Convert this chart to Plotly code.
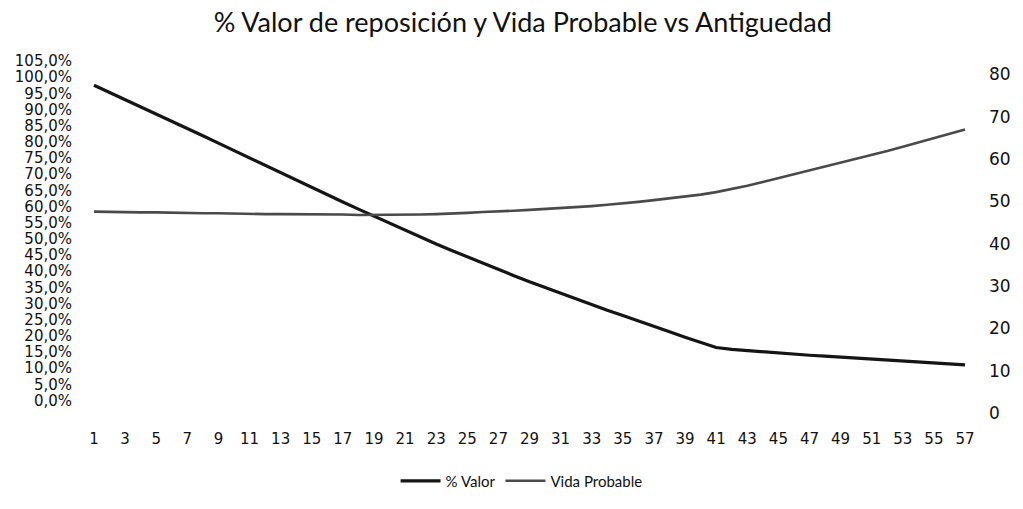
import plotly.graph_objects as go

# Antigüedad (años)
antiguedad = list(range(1, 58))

# % Valor de reposición (fracción)
pct_valor = [0.975, 0.953, 0.931, 0.909, 0.887, 0.865, 0.842, 0.819, 0.796, 0.773,
             0.750, 0.727, 0.704, 0.681, 0.658, 0.636, 0.614, 0.592, 0.570, 0.548,
             0.526, 0.505, 0.484, 0.464, 0.444, 0.424, 0.405, 0.386, 0.367, 0.349,
             0.331, 0.313, 0.296, 0.279, 0.263, 0.247, 0.231, 0.213, 0.196, 0.180,
             0.164, 0.158, 0.154, 0.150, 0.146, 0.143, 0.140, 0.137, 0.134, 0.131,
             0.128, 0.125, 0.122, 0.119, 0.116, 0.113, 0.110]

# Vida probable (años)
vida_probable = [47.6, 47.5, 47.5, 47.4, 47.4, 47.3, 47.3, 47.2, 47.2, 47.1,
                 47.1, 47.0, 47.0, 47.0, 46.9, 46.9, 46.9, 46.8, 46.8, 46.8,
                 46.8, 46.9, 47.0, 47.1, 47.3, 47.5, 47.6, 47.8, 48.0, 48.2,
                 48.4, 48.6, 48.9, 49.2, 49.5, 49.9, 50.3, 50.7, 51.1, 51.6,
                 52.2, 52.9, 53.7, 54.6, 55.5, 56.4, 57.3, 58.2, 59.2, 60.1,
                 61.0, 61.9, 62.9, 63.9, 65.0, 66.0, 67.0]

left_ticks = [i * 0.05 for i in range(22)]
right_ticks = list(range(0, 90, 10))
x_ticks = list(range(1, 58, 2))

title_font = "Lato, 'Open Sans', sans-serif"
tick_font = "'DejaVu Sans', sans-serif"

fig = go.Figure()

fig.add_trace(go.Scatter(
    x=antiguedad,
    y=pct_valor,
    mode="lines",
    name="% Valor",
    line=dict(color="#151515", width=3.2),
    yaxis="y"
))

fig.add_trace(go.Scatter(
    x=antiguedad,
    y=vida_probable,
    mode="lines",
    name="Vida Probable",
    line=dict(color="#4a4a4a", width=2.6),
    yaxis="y2"
))

fig.update_layout(
    width=1023,
    height=509,
    margin=dict(l=85, r=45, t=61, b=81),
    paper_bgcolor="white",
    plot_bgcolor="white",
    separators=",.",
    font=dict(family=title_font, size=16, color="#111111"),
    title=dict(
        text="% Valor de reposición y Vida Probable vs Antiguedad",
        x=0.511,
        xanchor="center",
        y=0.955,
        yanchor="middle",
        font=dict(family=title_font, size=27, color="#111111")
    ),
    xaxis=dict(
        range=[0.423, 57.705],
        tickvals=x_ticks,
        showgrid=False,
        zeroline=False,
        showline=False,
        ticks="",
        ticklabelstandoff=14,
        tickfont=dict(family=tick_font, size=15)
    ),
    yaxis=dict(
        range=[-0.0417, 1.05],
        tickvals=left_ticks,
        tickformat=".1%",
        showgrid=False,
        zeroline=False,
        showline=False,
        ticks="",
        ticklabelstandoff=12,
        tickfont=dict(family=tick_font, size=15)
    ),
    yaxis2=dict(
        range=[-0.23, 83.18],
        tickvals=right_ticks,
        overlaying="y",
        side="right",
        showgrid=False,
        zeroline=False,
        showline=False,
        ticks="",
        ticklabelstandoff=12,
        tickfont=dict(family=tick_font, size=17)
    ),
    legend=dict(
        orientation="h",
        x=0.49,
        xanchor="center",
        y=-0.19,
        yanchor="middle",
        font=dict(family=title_font, size=15),
        itemwidth=40
    )
)

# no page margin / scrollbar, so the figure fills the 1023x509 window exactly
fig.write_html(
    "out.html",
    config={"displayModeBar": False},
    post_script="document.body.style.margin='0';document.body.style.overflow='hidden';"
)
